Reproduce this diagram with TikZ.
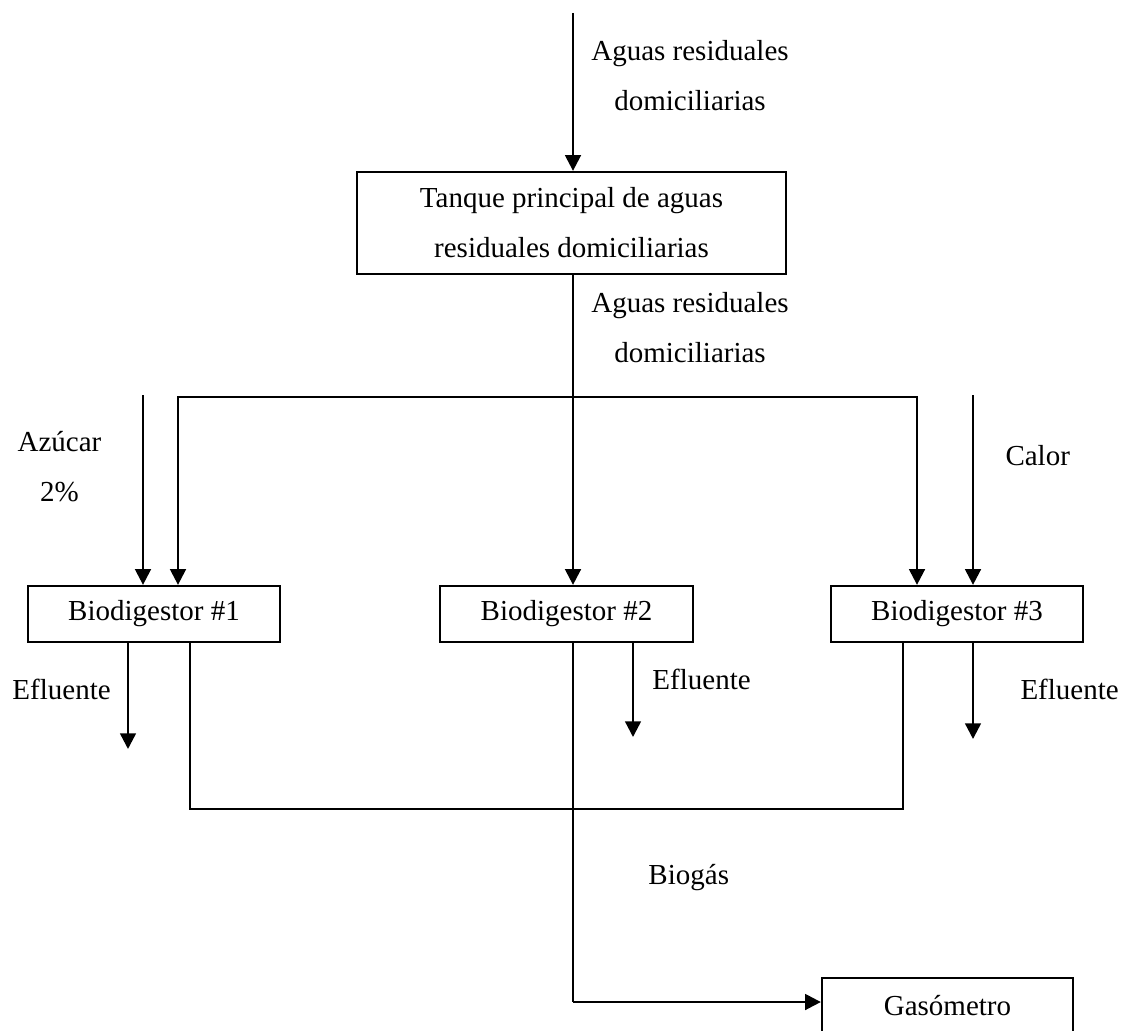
\documentclass[tikz,border=0pt]{standalone}
\usepackage{fontspec}
\setmainfont{Liberation Serif}
\usetikzlibrary{arrows.meta}

\tikzset{
  caja/.style={draw, line width=0.95pt, inner sep=0pt, align=center, font=\fontsize{12}{20.7}\selectfont},
  rotulo/.style={align=center, inner sep=0pt, font=\fontsize{12}{20.7}\selectfont},
  flecha/.style={line width=1pt, -{Triangle[length=6.5pt,width=6.5pt]}},
  fina/.style={line width=0.5pt},
  lazo/.style={line width=0.75pt}
}

\begin{document}
\begin{tikzpicture}[x=0.01454cm,y=-0.01454cm]
\useasboundingbox (0,0) rectangle (1122,1030);

% tanque, biodigestores y gasometro
\node[caja,minimum width=6.238cm,minimum height=1.483cm] (tanque) at (571.5,223) {Tanque principal de aguas\\residuales domiciliarias};
\node[caja,minimum width=3.664cm,minimum height=0.814cm] (bio1) at (154,614) {Biodigestor \#1};
\node[caja,minimum width=3.678cm,minimum height=0.814cm] (bio2) at (566.5,614) {Biodigestor \#2};
\node[caja,minimum width=3.664cm,minimum height=0.814cm] (bio3) at (957,614) {Biodigestor \#3};
\node[caja,minimum width=3.650cm,minimum height=0.800cm] (gasometro) at (947.5,1005.5) {Gasómetro};

% puntos de paso de las tuberias
\coordinate (p-entrada) at (573,13);
\coordinate (p-nudo) at (573,397);
\coordinate (p-rama1) at (178,397);
\coordinate (p-rama3) at (917,397);
\coordinate (p-azucar) at (143,395);
\coordinate (p-calor) at (973,395);
\coordinate (p-efl1) at (128,749);
\coordinate (p-efl2) at (633,737);
\coordinate (p-efl3) at (973,739);
\coordinate (p-gas1) at (190,809);
\coordinate (p-gas3) at (903,809);
\coordinate (p-codo) at (573,1002);

% rotulos
\node[rotulo] (t-agua1) at (690,75.5) {Aguas residuales\\domiciliarias};
\node[rotulo] (t-agua2) at (690,327.5) {Aguas residuales\\domiciliarias};
\node[rotulo] (t-azucar) at (59.5,467) {Azúcar\\2\%};
\node[rotulo,anchor=base west] (t-calor) at (1005,465) {Calor};
\node[rotulo,anchor=base west] (t-efl1) at (12,699) {Efluente};
\node[rotulo,anchor=base west] (t-efl2) at (652,689) {Efluente};
\node[rotulo,anchor=base west] (t-efl3) at (1020,699) {Efluente};
\node[rotulo,anchor=base west] (t-biogas) at (648,884) {Biogás};

% entrada y reparto de aguas residuales
\draw[flecha] (p-entrada) -- (p-entrada |- tanque.north);
\draw[fina] (p-entrada |- tanque.south) -- (p-nudo);
\draw[flecha] (p-nudo) -- (p-nudo |- bio2.north);
\draw[flecha] (p-nudo) -- (p-rama1) -- (p-rama1 |- bio1.north);
\draw[flecha] (p-nudo) -- (p-rama3) -- (p-rama3 |- bio3.north);
\draw[flecha] (p-azucar) -- (p-azucar |- bio1.north);
\draw[flecha] (p-calor) -- (p-calor |- bio3.north);

% efluentes
\draw[flecha] (p-efl1 |- bio1.south) -- (p-efl1);
\draw[flecha] (p-efl2 |- bio2.south) -- (p-efl2);
\draw[flecha] (p-efl3 |- bio3.south) -- (p-efl3);

% biogas hacia el gasometro
\draw[lazo] (p-gas1 |- bio1.south) -- (p-gas1) -- (p-gas3) -- (p-gas3 |- bio3.south);
\draw[fina] (p-codo |- bio2.south) -- (p-codo);
\draw[flecha] (p-codo) -- (p-codo -| gasometro.west);

\end{tikzpicture}
\end{document}
